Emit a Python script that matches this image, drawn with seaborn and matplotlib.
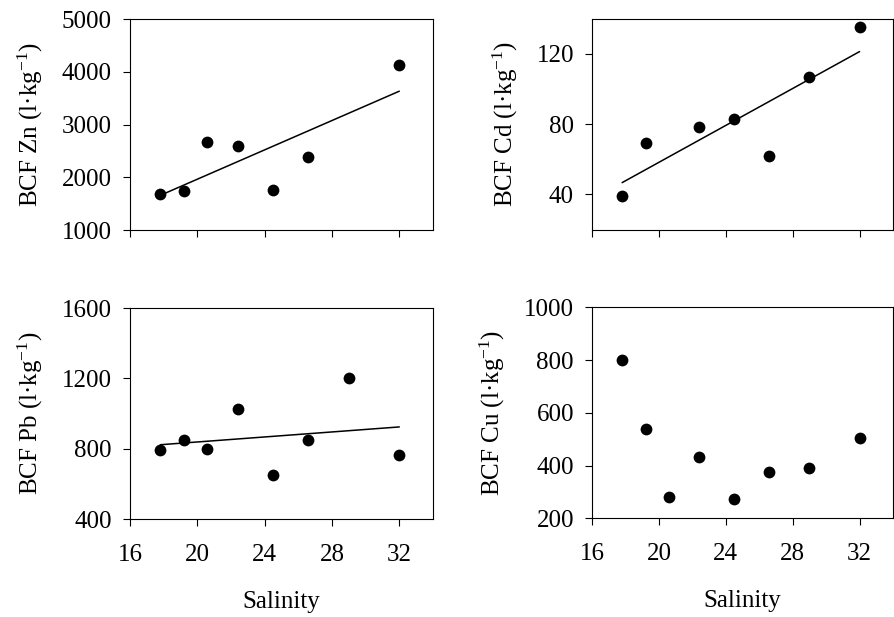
import seaborn as sns
import matplotlib.pyplot as plt

# salinity of each sample, per panel (Zn lacks 29, Cd lacks 20.6)
sal_zn = [17.8, 19.2, 20.6, 22.4, 24.5, 26.6, 32.0]
bcf_zn = [1677, 1740, 2677, 2595, 1759, 2386, 4120]

sal_cd = [17.8, 19.2, 22.4, 24.5, 26.6, 29.0, 32.0]
bcf_cd = [38.9, 69.4, 78.1, 82.9, 61.7, 106.6, 135.2]

sal_pb = [17.8, 19.2, 20.6, 22.4, 24.5, 26.6, 29.0, 32.0]
bcf_pb = [794, 849, 800, 1026, 648, 849, 1202, 766]

sal_cu = [17.8, 19.2, 20.6, 22.4, 24.5, 26.6, 29.0, 32.0]
bcf_cu = [800, 539, 280, 432, 272, 378, 390, 504]

x_ticks = [16, 20, 24, 28, 32]

sns.set_theme(style="ticks")
plt.rcParams["font.family"] = ["Liberation Serif", "DejaVu Serif"]
plt.rcParams["mathtext.fontset"] = "custom"
plt.rcParams["mathtext.rm"] = "Liberation Serif"
plt.rcParams["mathtext.it"] = "Liberation Serif:italic"
for k in ["text.color", "axes.labelcolor", "xtick.color", "ytick.color", "axes.edgecolor"]:
    plt.rcParams[k] = "black"

fig = plt.figure(figsize=(8.94, 6.17), dpi=100)

panels = [
    # (position, x, y, metal, ylim, yticks, fit, bottom row)
    ([0.1454, 0.6272, 0.3389, 0.342], sal_zn, bcf_zn, "Zn", (1000, 5000), [1000, 2000, 3000, 4000, 5000], True, False),
    ([0.6622, 0.6280, 0.3367, 0.342], sal_cd, bcf_cd, "Cd", (20, 140), [40, 80, 120], True, False),
    ([0.1454, 0.1588, 0.3389, 0.342], sal_pb, bcf_pb, "Pb", (400, 1600), [400, 800, 1200, 1600], True, True),
    ([0.6622, 0.1597, 0.3367, 0.342], sal_cu, bcf_cu, "Cu", (200, 1000), [200, 400, 600, 800, 1000], False, True),
]

for pos, x, y, metal, ylim, yticks, fit, bottom in panels:
    ax = fig.add_axes(pos)
    if fit:
        sns.regplot(x=x, y=y, ax=ax, ci=None, color="black",
                    scatter_kws={"s": 72, "alpha": 1, "linewidths": 0},
                    line_kws={"lw": 1.1})
    else:
        sns.scatterplot(x=x, y=y, ax=ax, color="black", s=72, linewidth=0)
    ax.set_xlim(16, 34)
    ax.set_ylim(*ylim)
    ax.set_xticks(x_ticks)
    ax.set_yticks(yticks)
    ax.set_ylabel(f"BCF {metal} (l·kg$^{{-1}}$)", fontsize=18, labelpad=12)
    ax.tick_params(direction="out", length=5, width=0.8, labelsize=18)
    ax.tick_params(axis="y", pad=8)
    ax.tick_params(axis="x", pad=13)
    for s in ax.spines.values():
        s.set_linewidth(0.8)
    if bottom:
        ax.set_xlabel("Salinity", fontsize=18, labelpad=18)
    else:
        ax.set_xticklabels([])
        ax.set_xlabel("")

fig.savefig("out.png", dpi=100)
plt.close()
